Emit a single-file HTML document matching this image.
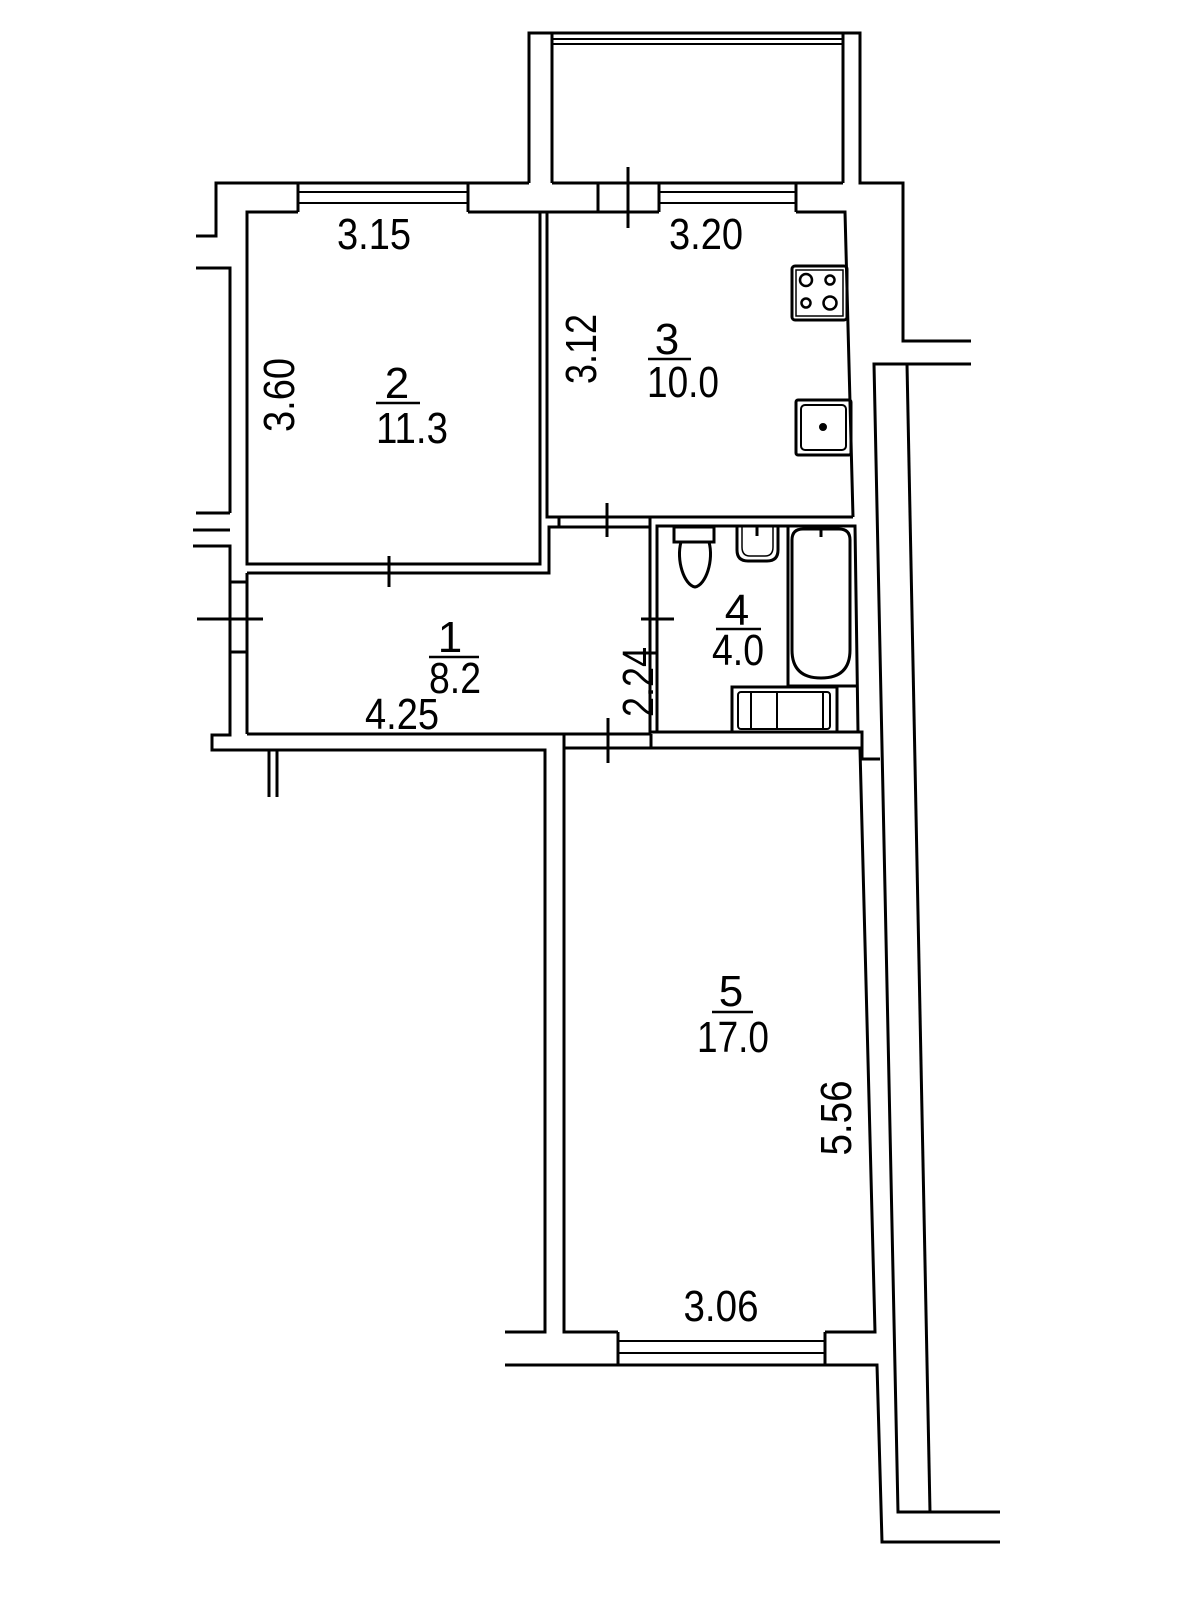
<!DOCTYPE html>
<html><head><meta charset="utf-8"><style>html,body{margin:0;padding:0;background:#fff}svg{display:block}</style></head>
<body>
<svg width="1200" height="1600" viewBox="0 0 1200 1600" xmlns="http://www.w3.org/2000/svg">
<g fill="none" stroke="#000" stroke-width="3" stroke-linejoin="miter">
<!-- balcony -->
<polyline points="529,183 529,33 860,33 860,183 903,183 903,341 971,341"/>
<polyline points="552,183 552,33"/>
<polyline points="843,183 843,33"/>
<line x1="552" y1="39" x2="843" y2="39" stroke-width="2"/>
<line x1="552" y1="44" x2="843" y2="44" stroke-width="2"/>
<!-- top outer wall -->
<polyline points="196,236 216,236 216,183 529,183"/>
<line x1="552" y1="183" x2="843" y2="183"/>
<!-- room 2 -->
<polyline points="230,513 230,268 196,268"/>
<polyline points="298,212 247,212 247,564 540,564 540,212 468,212"/>
<line x1="298" y1="183" x2="298" y2="212"/>
<line x1="468" y1="183" x2="468" y2="212"/>
<line x1="298" y1="192" x2="468" y2="192" stroke-width="2"/>
<line x1="298" y1="203" x2="468" y2="203" stroke-width="2"/>
<line x1="468" y1="212" x2="547" y2="212"/>
<line x1="196" y1="513" x2="230" y2="513"/>
<!-- kitchen -->
<polyline points="547,212 547,517 853,517"/>
<line x1="598" y1="183" x2="598" y2="212"/>
<line x1="659" y1="183" x2="659" y2="212"/>
<line x1="796" y1="183" x2="796" y2="212"/>
<line x1="659" y1="192" x2="796" y2="192" stroke-width="2"/>
<line x1="659" y1="203" x2="796" y2="203" stroke-width="2"/>
<line x1="547" y1="212" x2="659" y2="212"/>
<polyline points="796,212 845,212 853,517"/>
<line x1="628" y1="167" x2="628" y2="228"/>
<!-- stove -->
<rect x="792" y="266" width="55" height="54" rx="3"/>
<rect x="796" y="270" width="47" height="46" stroke-width="1.5"/>
<circle cx="806" cy="280" r="6" stroke-width="2.5"/>
<circle cx="830" cy="280" r="4.5" stroke-width="2.5"/>
<circle cx="806" cy="303" r="4.5" stroke-width="2.5"/>
<circle cx="830" cy="303" r="6.5" stroke-width="2.5"/>
<!-- sink -->
<rect x="796" y="400" width="55" height="55" rx="2"/>
<rect x="801" y="405" width="45" height="45" rx="4" stroke-width="2"/>
<circle cx="823" cy="427" r="2.5" fill="#000"/>
<!-- corridor -->
<polyline points="230,530 193,530"/>
<polyline points="193,546 230,546 230,735 212,735 212,750 545,750 545,1332 505,1332"/>
<line x1="230" y1="582" x2="247" y2="582"/>
<line x1="230" y1="652" x2="247" y2="652"/>
<polyline points="247,573 549,573 549,527 650,527"/>
<line x1="559" y1="517" x2="559" y2="527"/>
<line x1="247" y1="573" x2="247" y2="734"/>
<line x1="247" y1="734" x2="650" y2="734"/>
<line x1="389" y1="556" x2="389" y2="587"/>
<line x1="197" y1="619" x2="263" y2="619"/>
<line x1="607" y1="503" x2="607" y2="537"/>
<line x1="269" y1="750" x2="269" y2="797"/>
<line x1="277" y1="750" x2="277" y2="797"/>
<!-- bathroom -->
<line x1="650" y1="527" x2="650" y2="734"/>
<polyline points="657,732 657,526 855,526 858,732"/>
<line x1="650" y1="517" x2="650" y2="527"/>
<line x1="641" y1="619" x2="674" y2="619"/>
<line x1="650" y1="653" x2="657" y2="653"/>
<line x1="650" y1="732" x2="858" y2="732"/>
<polyline points="564,735 564,748 862,748"/>
<line x1="651" y1="734" x2="651" y2="748"/>
<line x1="608" y1="718" x2="608" y2="763"/>
<polyline points="858,732 862,732 862,759 880,759"/>
<!-- toilet -->
<rect x="674" y="527" width="40" height="15"/>
<path d="M681,542 C676,560 684,585 695,587 C706,585 714,560 709,542" />
<!-- basin -->
<path d="M737,527 L737,550 Q737,561 748,561 L767,561 Q778,561 778,550 L778,527"/>
<path d="M742,527 L742,547 Q742,556 750,556 L765,556 Q773,556 773,547 L773,527" stroke-width="1.5"/>
<line x1="757" y1="527" x2="757" y2="536" stroke-width="3"/>
<!-- bath -->
<line x1="788" y1="526" x2="788" y2="686"/>
<line x1="788" y1="686" x2="856" y2="686"/>
<path d="M792,540 Q792,529 803,529 L839,529 Q850,529 850,540 L850,650 Q850,678 821,678 Q792,678 792,650 Z"/>
<line x1="821" y1="527" x2="821" y2="537" stroke-width="3"/>
<!-- washer -->
<rect x="732" y="687" width="105" height="45"/>
<rect x="738" y="692" width="92" height="37" rx="3" stroke-width="2"/>
<line x1="751" y1="692" x2="751" y2="729" stroke-width="2"/>
<line x1="777" y1="692" x2="777" y2="729" stroke-width="2"/>
<line x1="823" y1="692" x2="823" y2="729" stroke-width="2"/>
<!-- room 5 -->
<polyline points="564,748 564,1332 618,1332"/>
<polyline points="825,1332 875,1332 860,749"/>
<line x1="618" y1="1332" x2="618" y2="1365"/>
<line x1="825" y1="1332" x2="825" y2="1365"/>
<line x1="618" y1="1341" x2="825" y2="1341" stroke-width="2"/>
<line x1="618" y1="1353" x2="825" y2="1353" stroke-width="2"/>
<polyline points="505,1365 877,1365 882,1542 1000,1542"/>
<!-- long walls -->
<polyline points="971,364 874,364 898,1512 1000,1512"/>
<line x1="907" y1="364" x2="930" y2="1512"/>
</g>
<g font-family="'Liberation Sans', sans-serif" font-size="44" fill="#000" text-anchor="middle">
<text x="374" y="249" textLength="74" lengthAdjust="spacingAndGlyphs">3.15</text>
<text x="706" y="249" textLength="74" lengthAdjust="spacingAndGlyphs">3.20</text>
<text x="397" y="398">2</text>
<text x="412" y="443" textLength="72" lengthAdjust="spacingAndGlyphs">11.3</text>
<text x="667" y="354">3</text>
<text x="683" y="397" textLength="72" lengthAdjust="spacingAndGlyphs">10.0</text>
<text x="450" y="652">1</text>
<text x="455" y="693" textLength="52" lengthAdjust="spacingAndGlyphs">8.2</text>
<text x="402" y="729" textLength="74" lengthAdjust="spacingAndGlyphs">4.25</text>
<text x="737" y="625">4</text>
<text x="738" y="665" textLength="52" lengthAdjust="spacingAndGlyphs">4.0</text>
<text x="731" y="1006">5</text>
<text x="733" y="1052" textLength="72" lengthAdjust="spacingAndGlyphs">17.0</text>
<text x="721" y="1321" textLength="75" lengthAdjust="spacingAndGlyphs">3.06</text>
<text transform="translate(294,395) rotate(-90)" textLength="74" lengthAdjust="spacingAndGlyphs">3.60</text>
<text transform="translate(596,349) rotate(-90)" textLength="70" lengthAdjust="spacingAndGlyphs">3.12</text>
<text transform="translate(653,682) rotate(-90)" textLength="70" lengthAdjust="spacingAndGlyphs">2.24</text>
<text transform="translate(851,1118) rotate(-90)" textLength="75" lengthAdjust="spacingAndGlyphs">5.56</text>
</g>
<g stroke="#000" stroke-width="2.5">
<line x1="376" y1="403" x2="420" y2="403"/>
<line x1="648" y1="359" x2="691" y2="359"/>
<line x1="429" y1="657" x2="479" y2="657"/>
<line x1="716" y1="629" x2="761" y2="629"/>
<line x1="712" y1="1012" x2="753" y2="1012"/>
</g>
</svg>
</body></html>
